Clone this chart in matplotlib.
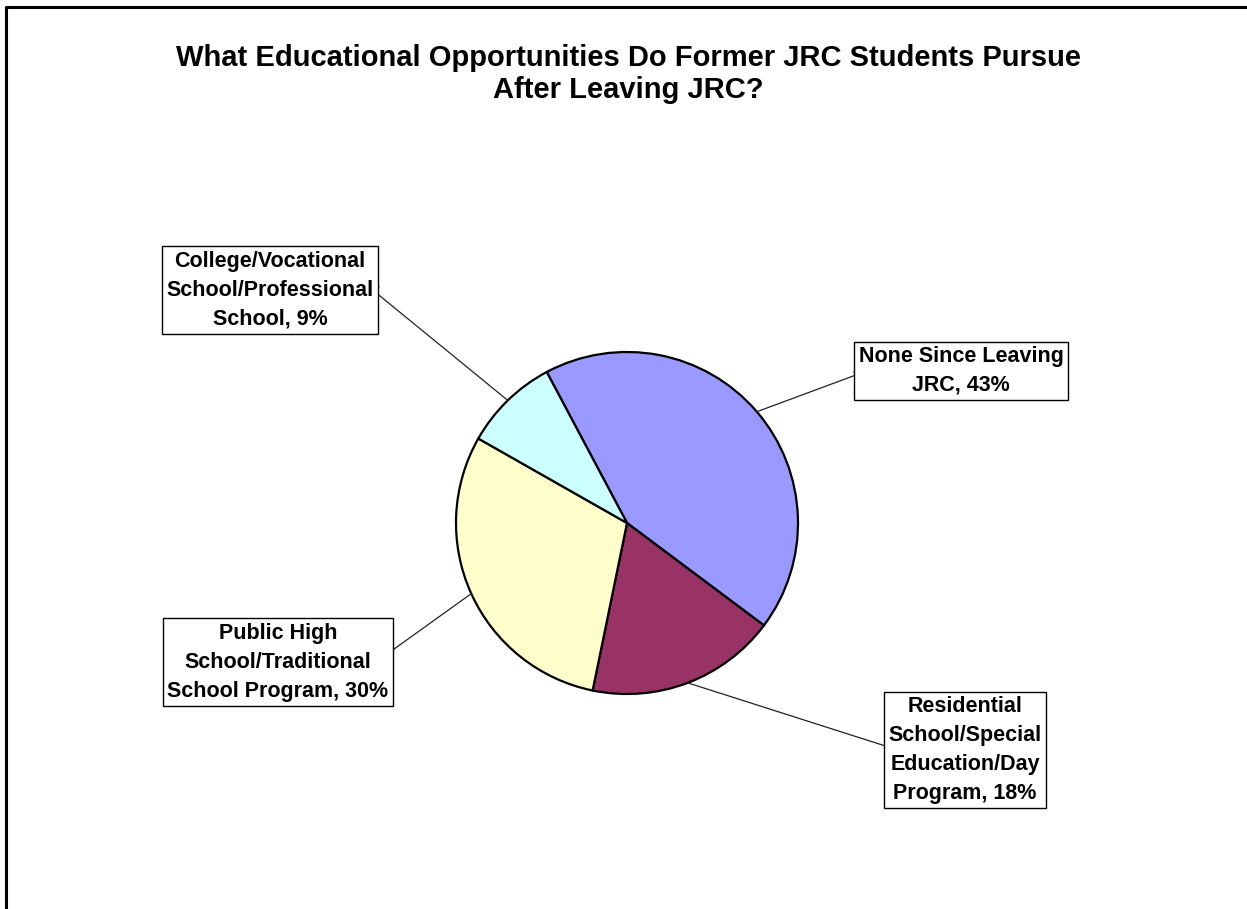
#!/usr/bin/env python3
"""Pie chart: educational opportunities of former JRC students."""
import numpy as np
import matplotlib
matplotlib.use("Agg")
import matplotlib.pyplot as plt

W, H = 1247, 909

categories = ["None Since Leaving\nJRC",
              "Residential\nSchool/Special\nEducation/Day\nProgram",
              "Public High\nSchool/Traditional\nSchool Program",
              "College/Vocational\nSchool/Professional\nSchool"]
shares = [43, 18, 30, 9]
colors = ["#9999FF", "#993366", "#FFFFCC", "#CCFFFF"]

# label box centres and leader attach points (pixel coords, y from top)
label_pos = [(961, 371), (965, 750), (278, 662), (270, 290)]
attach = [(854, 372), (888, 750), (393, 657), (379, 287)]

plt.rcParams["font.family"] = ["Liberation Sans", "DejaVu Sans"]

fig = plt.figure(figsize=(W / 100, H / 100), dpi=100)
ax = fig.add_axes([0, 0, 1, 1])

cx, cy, r = 627, H - 523, 171
wedges, _ = ax.pie(shares, colors=colors, startangle=118, counterclock=False,
                   center=(cx, cy), radius=r, frame=True,
                   wedgeprops=dict(edgecolor="black", linewidth=1.6))
ax.set_xlim(0, W); ax.set_ylim(0, H)
ax.set_aspect("equal")
ax.axis("off")

for w, cat, s, (lx, ly), (ax_, ay) in zip(wedges, categories, shares,
                                          label_pos, attach):
    mid = np.deg2rad((w.theta1 + w.theta2) / 2)
    px, py = cx + r * np.cos(mid), cy + r * np.sin(mid)
    elbow = ax_ + (10 if ax_ > cx else -10)
    ax.plot([px, elbow, ax_], [py, H - ay, H - ay], color="#222222",
            linewidth=0.9, zorder=1)
    ax.text(lx, H - ly, f"{cat}, {s}%", ha="center", va="center",
            fontsize=15.5, fontweight="bold", linespacing=1.5,
            bbox=dict(boxstyle="square,pad=0.2", facecolor="white",
                      edgecolor="black", linewidth=1.0), zorder=3)

ax.text(628, H - 74, "What Educational Opportunities Do Former JRC Students Pursue\n"
        "After Leaving JRC?", ha="center", va="center", fontsize=21,
        fontweight="bold", linespacing=1.2)

# chart-area border (right and bottom sides are cut off in the original)
ax.plot([6, 6, W + 10], [-10, H - 7, H - 7], color="black", linewidth=2.2,
        clip_on=False)

fig.savefig("out.png", dpi=100, facecolor="white")
